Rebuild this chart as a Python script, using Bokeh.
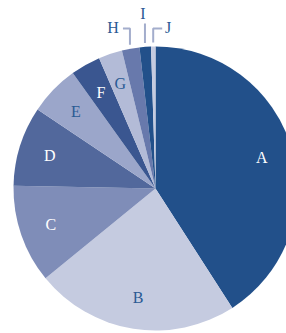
import numpy as np
from bokeh.plotting import figure
from bokeh.models import ColumnDataSource, Range1d
from bokeh.core.properties import value
from bokeh.embed import file_html
from bokeh.resources import INLINE

# ---- data ----
categories = ["A", "B", "C", "D", "E", "F", "G", "H", "I", "J"]
values = [40.9, 23.2, 11.2, 9.1, 5.7, 3.4, 2.7, 2.0, 1.3, 0.5]
colors = ["#22508a", "#c5cbe0", "#7f8db8", "#52689c", "#9ba6ca",
          "#3a5690", "#b3bbd7", "#6879ac", "#22508a", "#c5cbe0"]
label_colors = ["#ffffff", "#2a5a94", "#ffffff", "#ffffff", "#2a5a94",
                "#ffffff", "#2a5a94", "#2a5a94", "#2a5a94", "#2a5a94"]
inside = [True, True, True, True, True, True, True, False, False, False]

W, H = 286, 333
cx, cy, R = 155, 145, 142

p = figure(width=W, height=H, output_backend="svg", toolbar_location=None,
           x_range=Range1d(0, W), y_range=Range1d(0, H), min_border=0,
           outline_line_color=None, background_fill_color="white")
p.axis.visible = False
p.grid.visible = False

vals = np.array(values, dtype=float)
frac = vals / vals.sum()
cum = np.concatenate([[0], np.cumsum(frac)])
start = np.pi / 2 - 2 * np.pi * cum[:-1]
end = np.pi / 2 - 2 * np.pi * cum[1:]
mid = (start + end) / 2

src = ColumnDataSource(dict(start=start, end=end, color=colors, cat=categories))
p.wedge(x=cx, y=cy, radius=R, start_angle="start", end_angle="end",
        direction="clock", fill_color="color", line_color=None, source=src)

# inside labels
ix = [i for i in range(len(categories)) if inside[i]]
lr = 0.78 * R
lsrc = ColumnDataSource(dict(
    x=[cx + lr * np.cos(mid[i]) for i in ix],
    y=[cy + lr * np.sin(mid[i]) for i in ix],
    t=[categories[i] for i in ix],
    c=[label_colors[i] for i in ix]))
p.text(x="x", y="y", text="t", text_color="c", source=lsrc,
       text_font=value("Liberation Serif"), text_font_size="16px",
       text_align="center", text_baseline="middle")

# outside labels with elbow leaders
elbow_y = cy + R + 18
offsets = {"H": -7, "I": 0, "J": 9}
top_extra = {"H": 0, "I": 5, "J": 0}
text_dx = {"H": -10, "I": -2, "J": 6}
text_dy = {"H": 1, "I": 10, "J": 1}
for i in range(len(categories)):
    if inside[i]:
        continue
    c = categories[i]
    x0 = cx + (R + 4) * np.cos(mid[i])
    y0 = cy + (R + 4) * np.sin(mid[i])
    ey = elbow_y + top_extra[c]
    xs = [x0, x0, x0 + offsets[c]]
    ys = [y0, ey, ey]
    p.line(xs, ys, line_color="#a3adcc", line_width=2)
    p.text(x=[x0 + offsets[c] + text_dx[c]], y=[ey + text_dy[c]], text=[c],
           text_color=label_colors[i], text_font=value("Liberation Serif"),
           text_font_size="16px", text_align="center", text_baseline="middle")

open("out.html", "w").write(file_html(p, INLINE))
